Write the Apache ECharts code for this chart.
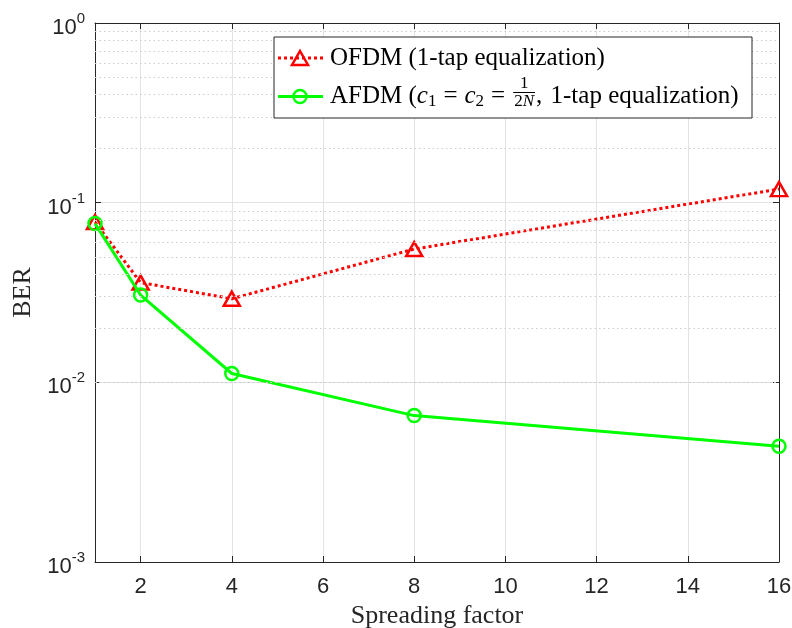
<!DOCTYPE html>
<html><head><meta charset="utf-8">
<script src="https://cdn.jsdelivr.net/npm/echarts@6/dist/echarts.min.js"></script>
<style>html,body{margin:0;padding:0;background:#fff}#c{width:792px;height:628px}</style>
</head><body><div id="c"></div>
<script>
// ---- data ----
const spreadingFactors = [1, 2, 4, 8, 16];
const berOFDM = [0.078, 0.0359, 0.0292, 0.0552, 0.119];
const berAFDM = [0.0765, 0.0306, 0.0112, 0.00653, 0.00441];
const xTickValues = [2, 4, 6, 8, 10, 12, 14, 16];
const yMin = 0.001, yMax = 1;
const nameOFDM = 'OFDM (1-tap equalization)';
const nameAFDM = 'AFDM (c1 = c2 = 1/2N, 1-tap equalization)';

const minorValues = [];
for (let k = -3; k < 0; k++) for (let m = 2; m <= 9; m++) minorValues.push(+(m * Math.pow(10, k)).toPrecision(3));

const AX = '#262626', GRID = '#e3e3e3';
const chart = echarts.init(document.getElementById('c'), null, {renderer: 'canvas', width: 792, height: 628});

// ---- legend (drawn as graphic text so the fraction can be typeset) ----
const ctx = document.createElement('canvas').getContext('2d');
function tw(t, size, style) { ctx.font = (style || 'normal') + ' ' + size + 'px "Liberation Serif"'; return ctx.measureText(t).width; }
const LF = 25, SF = 17;
const row1Y = 58, row2Y = 96.5, textX = 330;
const els = [];
els.push({type: 'rect', z: 100, shape: {x: 274, y: 37, width: 478, height: 81}, style: {fill: '#fff', stroke: AX, lineWidth: 1}});
els.push({type: 'line', z: 101, shape: {x1: 278, y1: row1Y, x2: 323, y2: row1Y}, style: {stroke: '#ff0000', lineWidth: 3, lineDash: [3, 3]}});
els.push({type: 'polygon', z: 102, shape: {points: [[300, row1Y - 7], [308, row1Y + 7], [292, row1Y + 7]]}, style: {fill: 'none', stroke: '#ff0000', lineWidth: 2.5}});
els.push({type: 'line', z: 101, shape: {x1: 278, y1: row2Y, x2: 323, y2: row2Y}, style: {stroke: '#00ff00', lineWidth: 3}});
els.push({type: 'circle', z: 102, shape: {cx: 300, cy: row2Y, r: 6.5}, style: {fill: 'none', stroke: '#00ff00', lineWidth: 2.5}});
function txt(t, x, y, size, style) {
  els.push({type: 'text', z: 103, x: x, y: y, style: {text: t, fontSize: size, fontFamily: 'Liberation Serif', fontStyle: style || 'normal', fill: '#000', align: 'left', verticalAlign: 'middle'}});
}
txt(nameOFDM, textX, row1Y, LF);
let cx = textX;
function add(t, size, style, dy) { txt(t, cx, row2Y + (dy || 0), size, style); cx += tw(t, size, style); }
function gap(w) { cx += w; }
add('AFDM (', LF);
add('c', LF, 'italic');
add('1', SF, 'normal', 5);
gap(7); add('=', LF); gap(7);
add('c', LF, 'italic');
add('2', SF, 'normal', 5);
gap(7); add('=', LF); gap(7);
(function fraction() {
  const wNum = tw('1', SF), w2 = tw('2', SF), wN = tw('N', SF, 'italic'), wDen = w2 + wN;
  const fw = Math.max(wNum, wDen) + 2;
  cx += 1;
  const barY = row2Y - 4;
  els.push({type: 'line', z: 103, shape: {x1: cx, y1: barY, x2: cx + fw, y2: barY}, style: {stroke: '#000', lineWidth: 1}});
  txt('1', cx + (fw - wNum) / 2, barY - 9, SF);
  const dx = cx + (fw - wDen) / 2;
  txt('2', dx, barY + 9, SF);
  txt('N', dx + w2, barY + 9, SF, 'italic');
  cx += fw + 1;
})();
add(',', LF); gap(2);
add(' 1-tap equalization)', LF);

const tickFont = {fontFamily: 'Liberation Sans', fontSize: 22, color: AX};

const option = {
  animation: false,
  backgroundColor: '#fff',
  grid: {left: 95, right: 13, top: 23, bottom: 66, containLabel: false, outerBoundsMode: 'none'},
  xAxis: [{
    type: 'value', min: 1, max: 16, position: 'bottom',
    axisLine: {show: true, onZero: false, lineStyle: {color: AX, width: 1}},
    axisTick: {show: true, inside: true, length: 6, customValues: xTickValues, lineStyle: {color: AX}},
    axisLabel: Object.assign({customValues: xTickValues, margin: 14}, tickFont),
    splitLine: {show: true, lineStyle: {color: GRID, width: 1}},
    name: 'Spreading factor', nameLocation: 'middle', nameGap: 36,
    nameTextStyle: {fontFamily: 'Liberation Serif', fontSize: 26, color: AX}
  }, {
    type: 'value', min: 1, max: 16, position: 'top',
    axisLine: {show: true, onZero: false, lineStyle: {color: AX, width: 1}},
    axisTick: {show: true, inside: true, length: 6, customValues: xTickValues, lineStyle: {color: AX}},
    axisLabel: {show: false}, splitLine: {show: false}
  }],
  yAxis: [{
    type: 'log', logBase: 10, min: yMin, max: yMax, position: 'left',
    axisLine: {show: true, onZero: false, lineStyle: {color: AX, width: 1}},
    axisTick: {show: true, inside: true, length: 6, lineStyle: {color: AX}},
    axisLabel: {
      margin: 10,
      formatter: function (v) { return '{b|10}{s|' + Math.round(Math.log10(v)) + '}'; },
      rich: {
        b: {fontFamily: 'Liberation Sans', fontSize: 22, color: AX, padding: [10, 0, 0, 0]},
        s: {fontFamily: 'Liberation Sans', fontSize: 15, color: AX, padding: [0, 0, 8, 0]}
      }
    },
    splitLine: {show: true, lineStyle: {color: GRID, width: 1}},
    name: 'BER', nameLocation: 'middle', nameGap: 58,
    nameTextStyle: {fontFamily: 'Liberation Serif', fontSize: 26, color: AX}
  }, {
    type: 'log', logBase: 10, min: yMin, max: yMax, position: 'right',
    axisLine: {show: true, onZero: false, lineStyle: {color: AX, width: 1}},
    axisTick: {show: true, inside: true, length: 6, lineStyle: {color: AX}},
    axisLabel: {show: false}, splitLine: {show: false}
  }],
  series: [{
    type: 'line', data: [], silent: true, z: 1,
    markLine: {
      silent: true, symbol: ['none', 'none'], label: {show: false}, animation: false,
      lineStyle: {type: [1.5, 3], color: '#cccccc', width: 1},
      emphasis: {disabled: true},
      data: minorValues.map(v => ({yAxis: v}))
    }
  }, {
    type: 'line', name: nameOFDM, z: 3,
    data: spreadingFactors.map((x, i) => [x, berOFDM[i]]),
    symbol: 'triangle', symbolSize: [16, 14], showAllSymbol: true,
    lineStyle: {color: '#ff0000', width: 3, type: [3, 3]},
    itemStyle: {color: 'rgba(0,0,0,0)', borderColor: '#ff0000', borderWidth: 2.5},
    emphasis: {disabled: true}
  }, {
    type: 'line', name: nameAFDM, z: 4,
    data: spreadingFactors.map((x, i) => [x, berAFDM[i]]),
    symbol: 'circle', symbolSize: 13, showAllSymbol: true,
    lineStyle: {color: '#00ff00', width: 3},
    itemStyle: {color: 'rgba(0,0,0,0)', borderColor: '#00ff00', borderWidth: 2.5},
    emphasis: {disabled: true}
  }],
  graphic: els
};
chart.setOption(option);
</script>
</body></html>
